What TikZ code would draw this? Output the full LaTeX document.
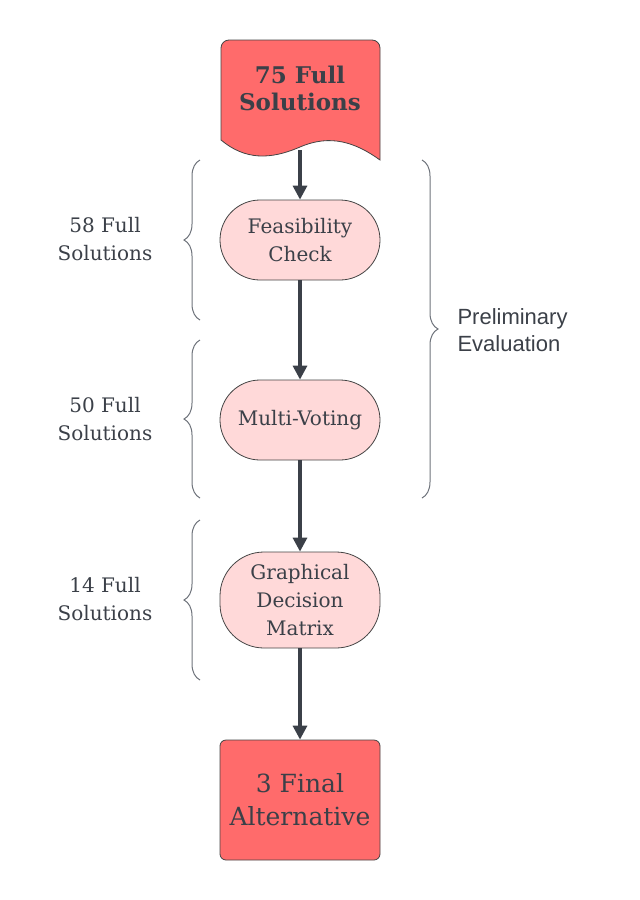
\documentclass[tikz,border=0pt]{standalone}
\usepackage{fontspec}
\setmainfont{DejaVu Serif}
\newfontfamily\labsans{Liberation Sans}
\usetikzlibrary{arrows.meta,decorations.pathreplacing}
\definecolor{ink}{HTML}{3B4048}
\definecolor{redfill}{HTML}{FF6B6B}
\definecolor{pinkfill}{HTML}{FFD9D9}
\definecolor{edge}{HTML}{444444}
\definecolor{bracec}{HTML}{6E737B}
\tikzset{
  stage/.style={rectangle, draw=edge, line width=0.8pt, fill=pinkfill,
    minimum width=160pt, align=center, text=ink,
    font=\fontsize{20}{28}\selectfont, inner sep=0pt},
  flow/.style={draw=ink, line width=3.2pt, -{Triangle[length=14pt,width=14pt]}},
  bracestyle/.style={draw=bracec, line width=1pt,
    decorate, decoration={brace, amplitude=16pt, raise=0pt}},
  sidelabel/.style={text=ink, align=center, font=\fontsize{20}{28}\selectfont},
  rightlabel/.style={text=ink, align=left, anchor=west, font=\labsans\fontsize{22}{27}\selectfont}
}
\begin{document}
\begin{tikzpicture}[x=1pt,y=-1pt]
\useasboundingbox (0,0) rectangle (640,900);
% top document shape
\draw[draw=edge, line width=0.8pt, fill=redfill, rounded corners=8pt]
  (221,140) -- (221,40) -- (380,40) [sharp corners] -- (380,160)
  .. controls (355,142) and (330,134) .. (300,147)
  .. controls (270,160) and (245,160) .. (221,140) -- cycle;
\node[text=ink, align=center, font=\bfseries\fontsize{23}{27}\selectfont] (top) at (300,88) {75 Full\\Solutions};
\coordinate (topout) at (300,150);
% stages
\node[stage, minimum height=80pt, rounded corners=40pt] (feas) at (300,240) {Feasibility\\Check};
\node[stage, minimum height=80pt, rounded corners=40pt] (mv) at (300,420) {Multi-Voting};
\node[stage, minimum height=96pt, rounded corners=44pt] (gdm) at (300,600) {Graphical\\Decision\\Matrix};
\node[draw=edge, line width=0.8pt, fill=redfill, rounded corners=6pt, minimum width=160pt, minimum height=120pt,
  align=center, text=ink, font=\fontsize{25}{33}\selectfont] (final) at (300,800) {3 Final\\Alternative};
% arrows
\draw[flow] (topout) -- (feas.north);
\draw[flow] (feas.south) -- (mv.north);
\draw[flow] (mv.south) -- (gdm.north);
\draw[flow] (gdm.south) -- (final.north);
% left braces
\coordinate (b1a) at (200,320); \coordinate (b1b) at (200,160);
\coordinate (b2a) at (200,498); \coordinate (b2b) at (200,340);
\coordinate (b3a) at (200,680); \coordinate (b3b) at (200,520);
\draw[bracestyle] (b1a) -- (b1b);
\draw[bracestyle] (b2a) -- (b2b);
\draw[bracestyle] (b3a) -- (b3b);
\node[sidelabel] (l1) at (105,239) {58 Full\\Solutions};
\node[sidelabel] (l2) at (105,419) {50 Full\\Solutions};
\node[sidelabel] (l3) at (105,599) {14 Full\\Solutions};
% right brace
\coordinate (r1a) at (422,160); \coordinate (r1b) at (422,498);
\draw[bracestyle] (r1a) -- (r1b);
\node[rightlabel] (pe) at (454,330) {Preliminary\\Evaluation};
\end{tikzpicture}
\end{document}
